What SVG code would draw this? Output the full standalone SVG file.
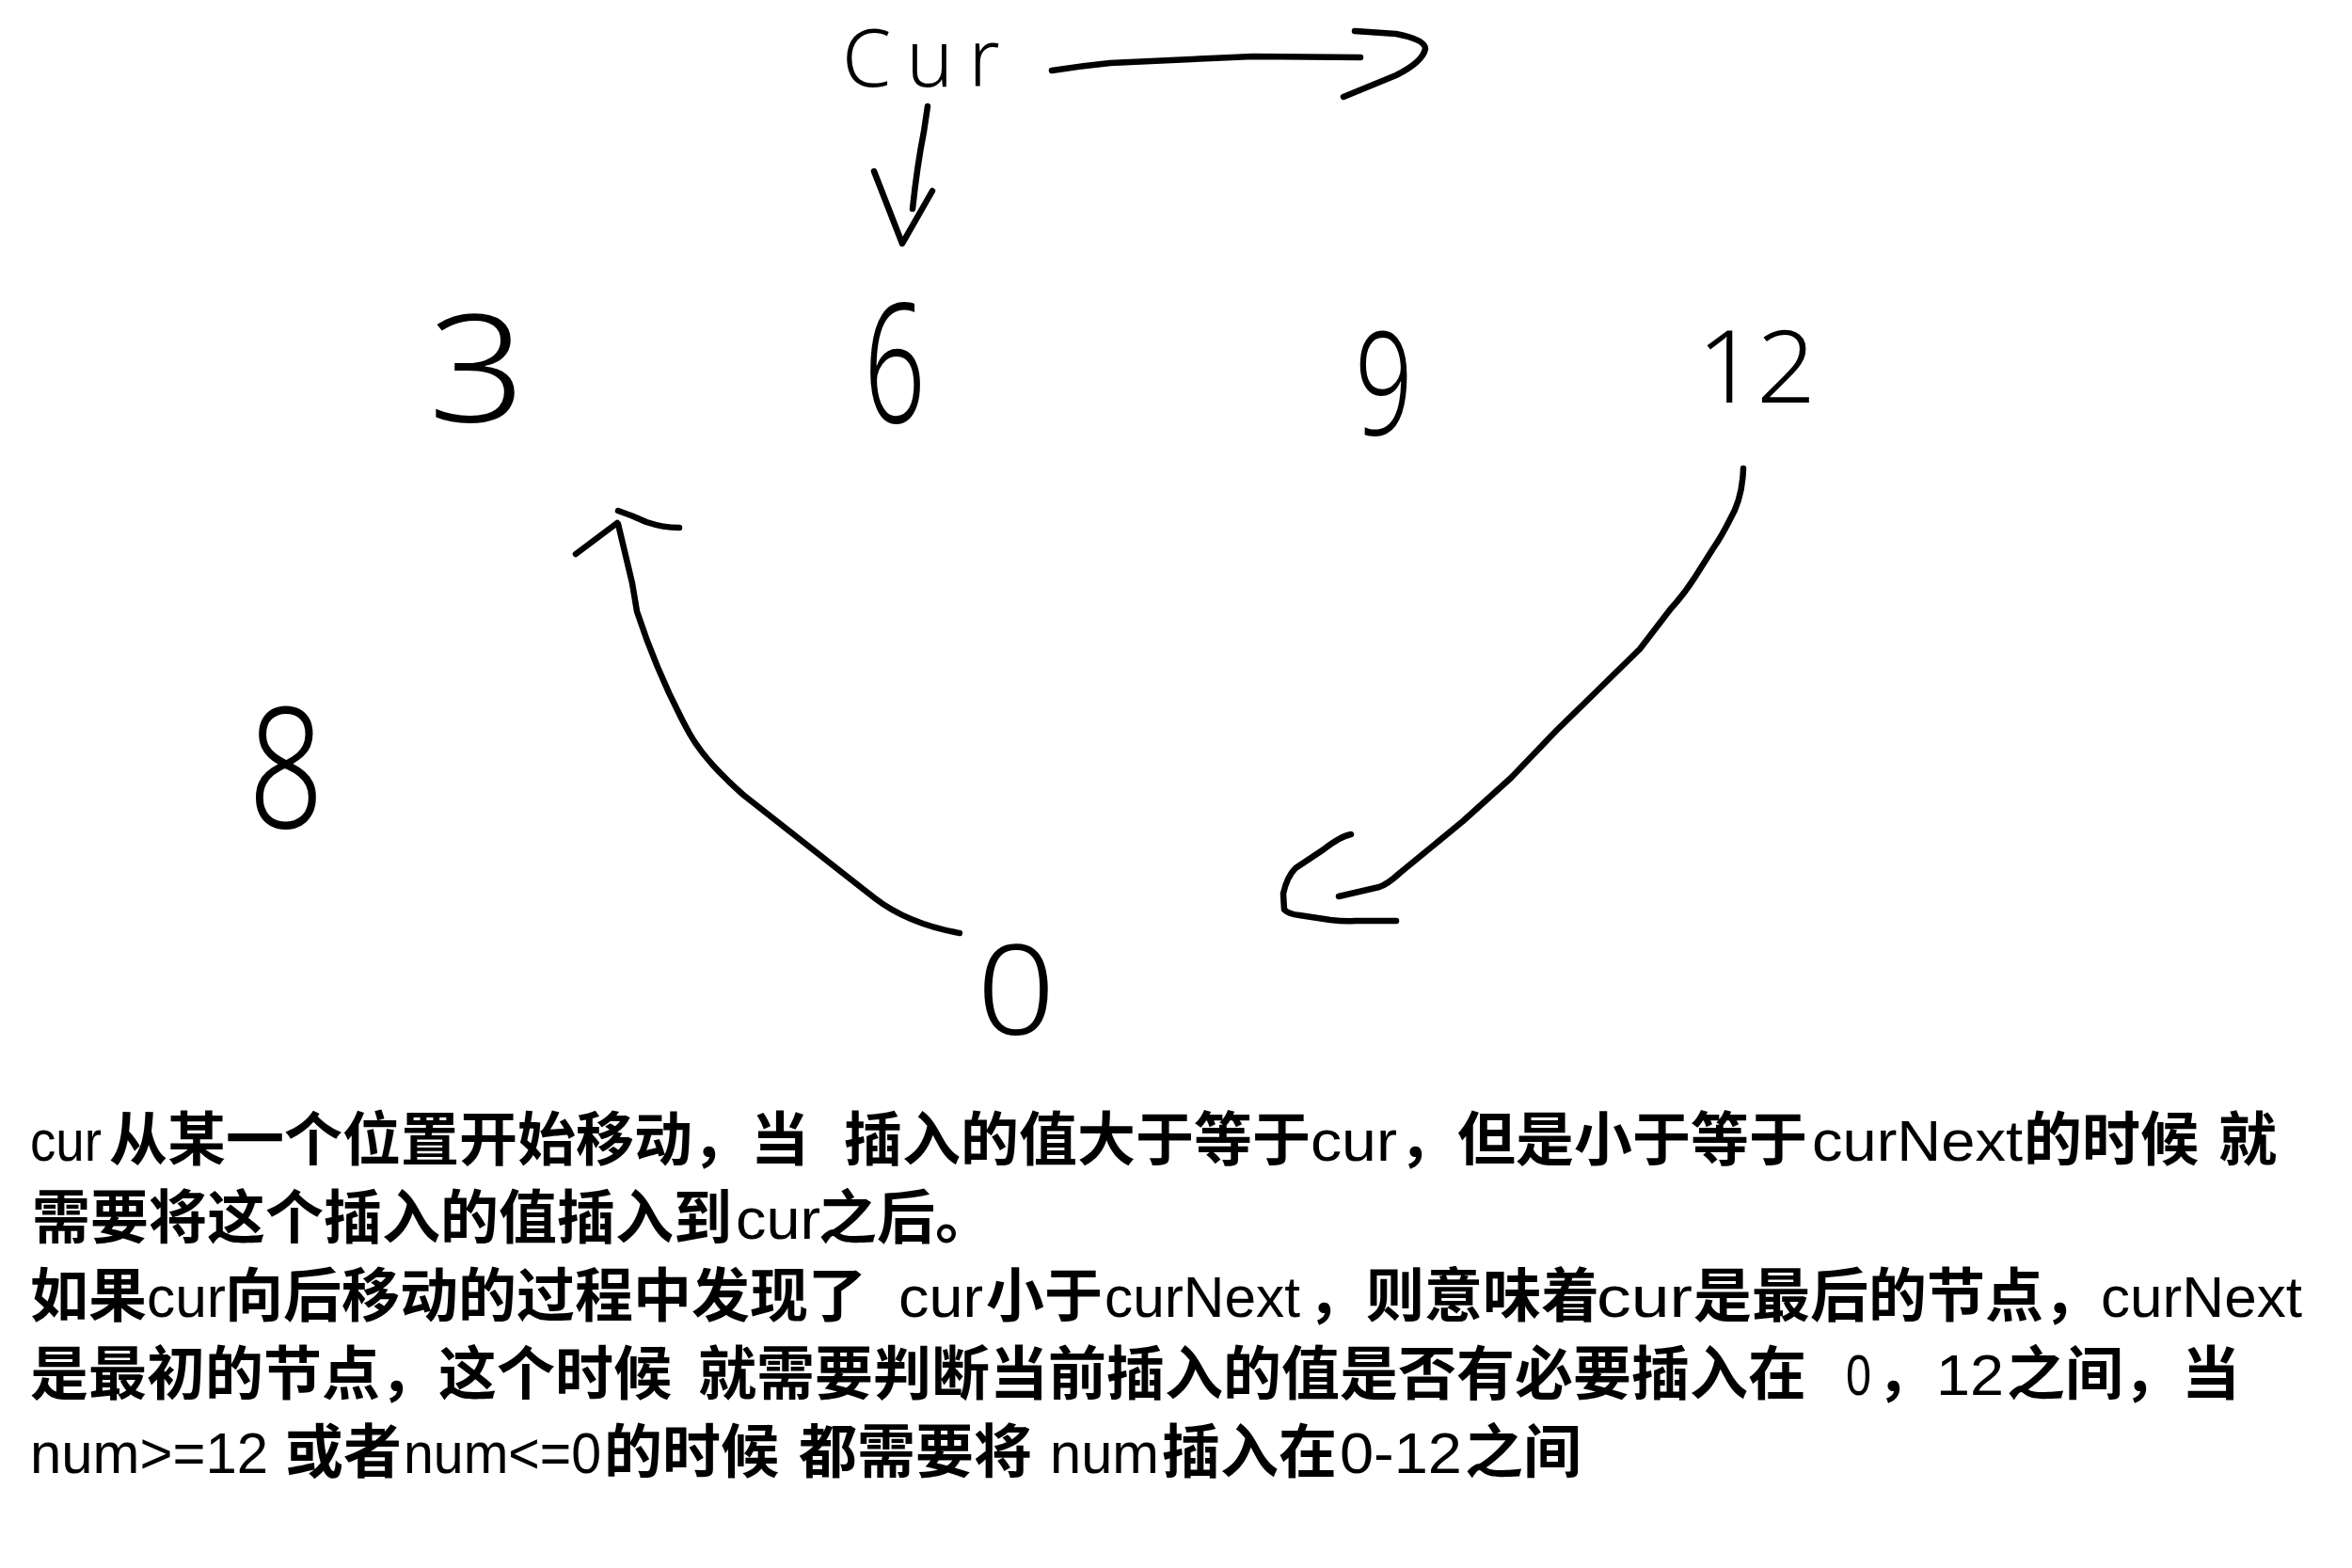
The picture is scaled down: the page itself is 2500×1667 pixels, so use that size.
<svg xmlns="http://www.w3.org/2000/svg" width="2500" height="1667" viewBox="0 0 2500 1667">
  <style>
    .hw { font-family: "Noto Sans", "Liberation Sans", sans-serif; font-weight: 300; fill: #000; }
    .ink { fill: none; stroke: #000; stroke-width: 6.5; stroke-linecap: round; stroke-linejoin: round; }
    .zh { font-family: "Noto Sans CJK SC", "Noto Sans", sans-serif; font-weight: 700; font-size: 62px; fill: #000; }
    .en { font-family: "Liberation Sans", "Noto Sans", sans-serif; font-weight: 400; font-size: 62px; fill: #000; }
  </style>
  <rect x="0" y="0" width="2500" height="1667" fill="#ffffff"/>

  <!-- handwritten labels -->
  <g id="node-cur"><text class="hw" x="895" y="92" font-size="84" letter-spacing="16">Cur</text></g>
  <g id="node-3"><text class="hw" x="455" y="448" font-size="158" textLength="104" lengthAdjust="spacingAndGlyphs">3</text></g>
  <g id="node-6"><text class="hw" x="918" y="449" font-size="176" textLength="66" lengthAdjust="spacingAndGlyphs">6</text></g>
  <g id="node-9"><text class="hw" x="1440" y="462" font-size="153" textLength="62" lengthAdjust="spacingAndGlyphs">9</text></g>
  <g id="node-12"><text class="hw" x="1804" y="428" font-size="106" textLength="126" lengthAdjust="spacingAndGlyphs">12</text></g>
  <g id="node-8"><text class="hw" x="264" y="880" font-size="179" textLength="80" lengthAdjust="spacingAndGlyphs">8</text></g>
  <g id="node-0"><text class="hw" x="1038" y="1100" font-size="133" textLength="84" lengthAdjust="spacingAndGlyphs">0</text></g>

  <!-- connectors -->
  <g id="connectors">
    <!-- cur moving right -->
    <path class="ink" d="M1118,75 Q1150,70 1180,67 L1332,60 L1446,61"/>
    <path class="ink" d="M1440,33 L1484,36 Q1515,42 1515,52 Q1512,66 1484,80 L1428,103"/>
    <!-- cur pointing down at 6 -->
    <path class="ink" d="M986,113 L982,140 Q975,175 970,222"/>
    <path class="ink" d="M929,182 L959,259 L991,203"/>
    <!-- 0 back to 3 -->
    <path class="ink" d="M1020,992 Q965,982 930,955 L907,937 L790,845 Q750,810 733,780 Q700,720 677,650 L672,620 L657,557"/>
    <path class="ink" d="M612,589 L656,556"/>
    <path class="ink" d="M657,543 Q672,548 687,555 Q705,561 722,561"/>
    <!-- 12 wrapping down to 0 -->
    <path class="ink" d="M1853,498 Q1852,530 1839,552 Q1830,570 1821,583 L1802,613 Q1790,632 1776,647 L1743,690 L1695,737 L1654,777 L1606,827 L1555,873 L1510,910 L1488,928 Q1475,940 1466,943 Q1440,949 1423,953"/>
    <path class="ink" d="M1436,887 Q1425,889 1407,903 L1377,923 Q1368,932 1364,950 L1365,967 Q1370,972 1381,973 L1414,978 Q1430,980 1440,979 L1484,979"/>
  </g>

  <!-- explanatory paragraph -->
  <g id="note">
    <text class="en" x="32" y="1234" textLength="76" lengthAdjust="spacingAndGlyphs">cur</text>
    <text class="zh" x="116" y="1234">从某一个位置开始移动，当</text>
    <text class="zh" x="897" y="1234">插入的值大于等于</text>
    <text class="en" x="1393" y="1234" textLength="92" lengthAdjust="spacingAndGlyphs">cur</text>
    <text class="zh" x="1487" y="1234">，但是小于等于</text>
    <text class="en" x="1926" y="1234" textLength="224" lengthAdjust="spacingAndGlyphs">curNext</text>
    <text class="zh" x="2151" y="1234">的时候</text>
    <text class="zh" x="2358" y="1234">就</text>

    <text class="zh" x="34" y="1317">需要将这个插入的值插入到</text>
    <text class="en" x="782" y="1317" textLength="90" lengthAdjust="spacingAndGlyphs">cur</text>
    <text class="zh" x="870" y="1317">之后。</text>

    <text class="zh" x="32" y="1400">如果</text>
    <text class="en" x="156" y="1400" textLength="84" lengthAdjust="spacingAndGlyphs">cur</text>
    <text class="zh" x="239" y="1400">向后移动的过程中发现了</text>
    <text class="en" x="955" y="1400" textLength="90" lengthAdjust="spacingAndGlyphs">cur</text>
    <text class="zh" x="1048" y="1400">小于</text>
    <text class="en" x="1174" y="1400" textLength="208" lengthAdjust="spacingAndGlyphs">curNext</text>
    <text class="zh" x="1390" y="1400">，则意味着</text>
    <text class="en" x="1697" y="1400" textLength="102" lengthAdjust="spacingAndGlyphs">cur</text>
    <text class="zh" x="1800" y="1400">是最后的节点，</text>
    <text class="en" x="2233" y="1400" textLength="214" lengthAdjust="spacingAndGlyphs">curNext</text>

    <text class="zh" x="32" y="1483">是最初的节点，这个时候</text>
    <text class="zh" x="742" y="1483">就需要判断当前插入的值是否有必要插入在</text>
    <text class="en" x="1962" y="1483" textLength="27" lengthAdjust="spacingAndGlyphs">0</text>
    <text class="zh" x="1995" y="1483">，</text>
    <text class="en" x="2058" y="1483" textLength="72" lengthAdjust="spacingAndGlyphs">12</text>
    <text class="zh" x="2133" y="1483">之间，当</text>

    <text class="en" x="32" y="1566" textLength="253" lengthAdjust="spacingAndGlyphs">num&gt;=12</text>
    <text class="zh" x="303" y="1566">或者</text>
    <text class="en" x="429" y="1566" textLength="210" lengthAdjust="spacingAndGlyphs">num&lt;=0</text>
    <text class="zh" x="642" y="1566">的时候</text>
    <text class="zh" x="849" y="1566">都需要将</text>
    <text class="en" x="1116" y="1566" textLength="116" lengthAdjust="spacingAndGlyphs">num</text>
    <text class="zh" x="1235" y="1566">插入在</text>
    <text class="en" x="1424" y="1566" textLength="130" lengthAdjust="spacingAndGlyphs">0-12</text>
    <text class="zh" x="1557" y="1566">之间</text>
  </g>
</svg>
